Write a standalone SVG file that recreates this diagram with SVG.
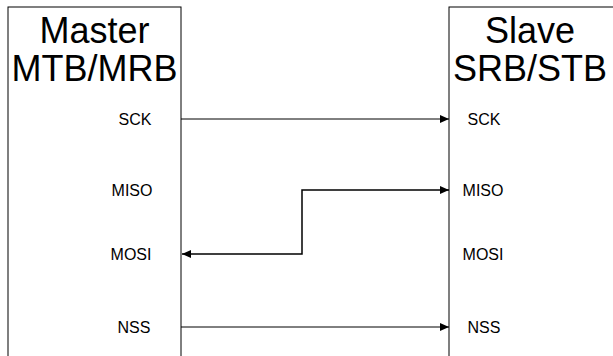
<svg xmlns="http://www.w3.org/2000/svg" width="613" height="356" viewBox="0 0 613 356">
<style>
.box{fill:#fff;stroke:#000;stroke-width:1}
.title{font-family:"Liberation Sans",Arial,sans-serif;font-size:36px;fill:#000;text-anchor:middle}
.lbl{font-family:"Liberation Sans",Arial,sans-serif;font-size:16px;fill:#000;text-anchor:middle}
.thin{fill:none;stroke:#000;stroke-width:1}
.thick{fill:none;stroke:#000;stroke-width:1.5}
</style>
<defs>
<marker id="ah" markerWidth="10" markerHeight="8" refX="9" refY="4" orient="auto-start-reverse" markerUnits="userSpaceOnUse">
<path d="M0,0 L9,4 L0,8 Z" fill="#000"/>
</marker>
</defs>
<rect width="613" height="356" fill="#fff"/>
<g id="master">
<rect class="box" x="8" y="7" width="173" height="370"/>
<text class="title" x="94.5" y="43">Master</text>
<text class="title" x="94.5" y="81">MTB/MRB</text>
<text class="lbl" x="135" y="125">SCK</text>
<text class="lbl" x="132" y="196">MISO</text>
<text class="lbl" x="131" y="260">MOSI</text>
<text class="lbl" x="134" y="333">NSS</text>
</g>
<g id="slave">
<rect class="box" x="449" y="7" width="180" height="370"/>
<text class="title" x="530" y="43">Slave</text>
<text class="title" x="530" y="81">SRB/STB</text>
<text class="lbl" x="484" y="125">SCK</text>
<text class="lbl" x="483" y="196">MISO</text>
<text class="lbl" x="483" y="260">MOSI</text>
<text class="lbl" x="484" y="333">NSS</text>
</g>
<g id="connectors">
<path class="thin" d="M181,119 L449,119" marker-end="url(#ah)"/>
<path class="thick" d="M449,190 L302,190 L302,254 L182,254" marker-start="url(#ah)" marker-end="url(#ah)"/>
<path class="thin" d="M181,327 L449,327" marker-end="url(#ah)"/>
</g>
</svg>
